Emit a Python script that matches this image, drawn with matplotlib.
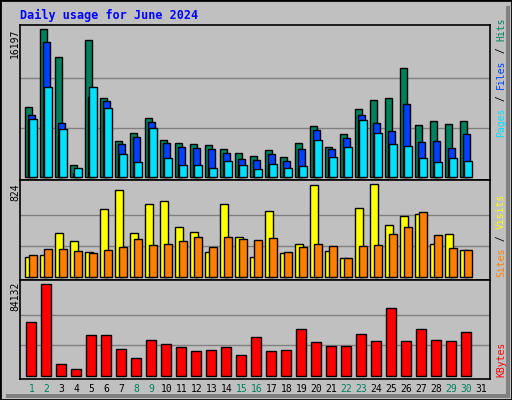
import matplotlib
matplotlib.use("Agg")
import matplotlib.pyplot as plt
from matplotlib.patches import Rectangle

days = list(range(1, 32))
weekend = [1, 2, 8, 9, 15, 16, 22, 23, 29, 30]

hits = [7695, 16197, 13119, 1246, 14988, 8611, 3884, 4764, 6413, 3994, 3664, 3554, 3445, 3005, 2565,
        2235, 2895, 2125, 3664, 5533, 3225, 4654, 7402, 8391, 8611, 11909, 5643, 6083, 5753, 6083, 0]
files = [6742, 14768, 5863, 366, 8795, 8282, 3554, 4324, 5973, 3664, 3225, 3115, 3005, 2565, 1905,
         1796, 2455, 1686, 3005, 5093, 3005, 4214, 6742, 5863, 4984, 7952, 3774, 3884, 3115, 4654, 0]
pages = [6303, 9821, 5203, 916, 9821, 7512, 2455, 1576, 5313, 2015, 1246, 1246, 916, 1686, 1246,
         806, 1356, 916, 1136, 3994, 2125, 3225, 6193, 4764, 3554, 3335, 2015, 1576, 2015, 1686, 0]
visits = [173, 190, 387, 315, 217, 601, 770, 387, 646, 672, 440, 396, 217, 646, 351,
          173, 583, 208, 289, 815, 226, 164, 610, 824, 458, 538, 556, 289, 378, 235, 0]
sites = [190, 244, 244, 226, 208, 235, 262, 333, 280, 289, 315, 351, 262, 351, 333,
         324, 342, 217, 262, 289, 271, 164, 271, 280, 378, 440, 574, 369, 253, 235, 0]
kbytes = [49128, 84132, 10440, 5834, 37153, 37153, 24257, 15966, 32547, 28863, 26100, 22415, 23336,
          26100, 18730, 35311, 22415, 23336, 42680, 30705, 27021, 27021, 38074, 31626, 62024, 31626,
          42680, 32547, 31626, 39917, 0]

BG = "#C0C0C0"
W, H = 512, 400
fig = plt.figure(figsize=(W / 100, H / 100), dpi=100, facecolor=BG)

# outer frame with shadow
fig.patches.append(Rectangle((0, 0), 1, 1, transform=fig.transFigure, fill=False, ec="black", lw=2))
fig.patches.append(Rectangle((506 / W, 6 / H), 4 / W, 388 / H, transform=fig.transFigure, fc="#808080", ec="none"))
fig.patches.append(Rectangle((6 / W, 2 / H), 504 / W, 4 / H, transform=fig.transFigure, fc="#808080", ec="none"))


def panel(top, bottom, vmax, pad_lo, pad_hi):
    ax = fig.add_axes([20 / W, 1 - bottom / H, 470 / W, (bottom - top) / H])
    ax.set_facecolor(BG)
    ax.set_xlim(0, 470)
    span = bottom - top - pad_lo - pad_hi
    per = vmax / span
    ax.set_ylim(-pad_lo * per, vmax + pad_hi * per)
    for g in (vmax / 3, 2 * vmax / 3):
        ax.axhline(g, color="#808080", lw=1, zorder=0)
    ax.set_xticks([])
    ax.set_yticks([])
    for s in ax.spines.values():
        s.set_color("black")
        s.set_linewidth(1.2)
    return ax


def draw(ax, vals, off, width, color):
    xs = [5.3 + 15 * (d - 1) + off for d, v in zip(days, vals) if v > 0]
    vs = [v for v in vals if v > 0]
    ax.bar(xs, vs, width=width, align="edge", color=color, ec="black", lw=1)


ax1 = panel(25, 180, 16197, 3.3, 4.3)
draw(ax1, hits, 0, 7, "#00805C")
draw(ax1, files, 3, 6.5, "#0040FF")
draw(ax1, pages, 4, 7.3, "#00E0FF")

ax2 = panel(180, 280, 824, 3.3, 4.3)
draw(ax2, visits, 0, 8, "#FFFF00")
draw(ax2, sites, 4, 7.3, "#FF8000")

ax3 = panel(280, 379, 84132, 3.3, 4.3)
draw(ax3, kbytes, 1, 10, "#FF0000")

mono = "DejaVu Sans Mono"
fig.text(20 / W, 1 - 15 / H, "Daily usage for June 2024", color="#0000FF", fontsize=8.5,
         fontweight="bold", family=mono, va="center")

for y, t in ((29, "16197"), (183, "824"), (282, "84132")):
    fig.text(15 / W, 1 - y / H, t, rotation=90, fontsize=7, family=mono, ha="center", va="top")


def right_label(y_bottom, parts):
    y = y_bottom
    for txt, col in parts:
        fig.text(501 / W, 1 - y / H, txt, rotation=90, fontsize=7, family=mono,
                 color=col, ha="center", va="bottom")
        y -= len(txt) * 6.0


right_label(137, [("Pages", "#00E0FF"), (" / ", "black"), ("Files", "#0040FF"), (" / ", "black"), ("Hits", "#00805C")])
right_label(277, [("Sites", "#FF8000"), (" / ", "black"), ("Visits", "#FFFF00")])
right_label(377, [("KBytes", "#FF0000")])

for d in days:
    col = "#00805C" if d in weekend else "black"
    fig.text((20 + 5.3 + 15 * (d - 1) + 6) / W, 1 - 389 / H, str(d), fontsize=7, family=mono,
             color=col, ha="center", va="center")

fig.savefig("out.png", dpi=100, facecolor=BG)
